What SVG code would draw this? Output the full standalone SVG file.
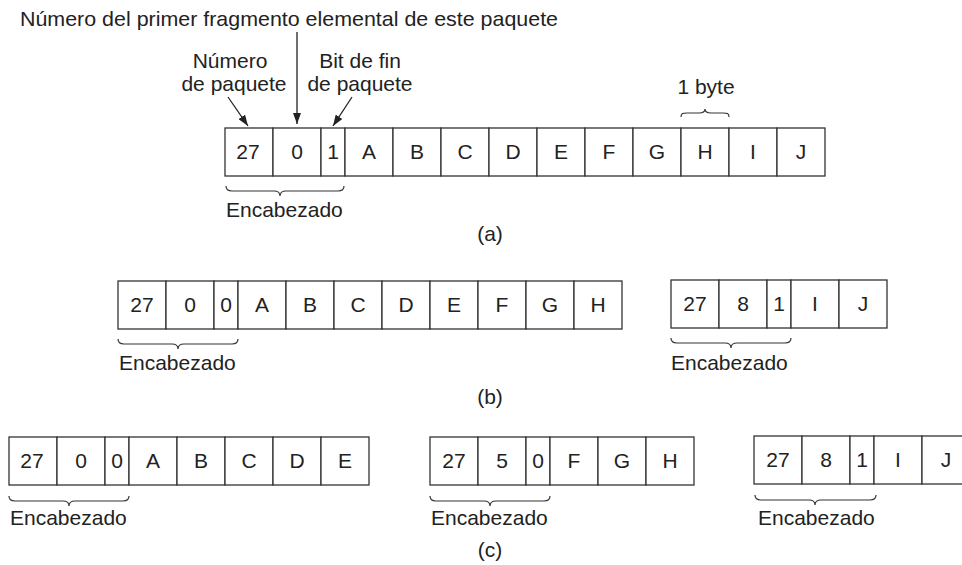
<svg xmlns="http://www.w3.org/2000/svg" width="962" height="565" viewBox="0 0 962 565">
<style>
  .cell { fill: #fff; stroke: #333; stroke-width: 1.3; }
  .t { font-family: "Liberation Sans", Arial, sans-serif; font-size: 21px; fill: #222; }
  .c { text-anchor: middle; }
  .brace { fill: none; stroke: #333; stroke-width: 1.2; }
  .arrow { fill: none; stroke: #222; stroke-width: 1.3; marker-end: url(#ah); }
</style>
<defs>
  <marker id="ah" markerUnits="userSpaceOnUse" markerWidth="11" markerHeight="8" refX="11" refY="4" orient="auto">
    <path d="M0,0 L11,4 L0,8 z" fill="#222"/>
  </marker>
</defs>
<rect width="962" height="565" fill="#fff"/>

<text class="t" x="20" y="26" textLength="538" lengthAdjust="spacingAndGlyphs">Número del primer fragmento elemental de este paquete</text>
<text class="t c" x="230" y="68">Número</text>
<text class="t c" x="234" y="91">de paquete</text>
<text class="t c" x="360" y="68">Bit de fin</text>
<text class="t c" x="360" y="91">de paquete</text>

<g id="connectors">
  <line class="arrow" x1="297" y1="32" x2="297" y2="124"/>
  <line class="arrow" x1="228" y1="97" x2="248" y2="126"/>
  <line class="arrow" x1="352" y1="97" x2="333" y2="126"/>
</g>

<!-- (a) -->
<g id="packet-a">
  <rect class="cell" x="225" y="128" width="48" height="48"/><text class="t c" x="248" y="159">27</text>
  <rect class="cell" x="273" y="128" width="48" height="48"/><text class="t c" x="297" y="159">0</text>
  <rect class="cell" x="321" y="128" width="24" height="48"/><text class="t c" x="333" y="159">1</text>
  <rect class="cell" x="345" y="128" width="48" height="48"/><text class="t c" x="369" y="159">A</text>
  <rect class="cell" x="393" y="128" width="48" height="48"/><text class="t c" x="417" y="159">B</text>
  <rect class="cell" x="441" y="128" width="48" height="48"/><text class="t c" x="465" y="159">C</text>
  <rect class="cell" x="489" y="128" width="48" height="48"/><text class="t c" x="513" y="159">D</text>
  <rect class="cell" x="537" y="128" width="48" height="48"/><text class="t c" x="561" y="159">E</text>
  <rect class="cell" x="585" y="128" width="48" height="48"/><text class="t c" x="609" y="159">F</text>
  <rect class="cell" x="633" y="128" width="48" height="48"/><text class="t c" x="657" y="159">G</text>
  <rect class="cell" x="681" y="128" width="48" height="48"/><text class="t c" x="705" y="159">H</text>
  <rect class="cell" x="729" y="128" width="48" height="48"/><text class="t c" x="753" y="159">I</text>
  <rect class="cell" x="777" y="128" width="48" height="48"/><text class="t c" x="801" y="159">J</text>
  <path class="brace" d="M226 186 C226 190 228 191 232 191 L274 191 C278 191 280 192 280 196 C280 192 282 191 286 191 L338 191 C342 191 344 190 344 186"/>
  <text class="t" x="226" y="217">Encabezado</text>
  <path class="brace" d="M681 117 C681 113 683 113 687 113 L699 113 C703 113 705 112 705 109 C705 112 707 113 711 113 L723 113 C727 113 729 113 729 117"/>
  <text class="t c" x="706" y="94">1 byte</text>
</g>
<text class="t c" x="490" y="241">(a)</text>

<!-- (b) -->
<g id="packet-b1">
  <rect class="cell" x="118" y="281" width="48" height="48"/><text class="t c" x="142" y="312">27</text>
  <rect class="cell" x="166" y="281" width="48" height="48"/><text class="t c" x="190" y="312">0</text>
  <rect class="cell" x="214" y="281" width="24" height="48"/><text class="t c" x="226" y="312">0</text>
  <rect class="cell" x="238" y="281" width="48" height="48"/><text class="t c" x="262" y="312">A</text>
  <rect class="cell" x="286" y="281" width="48" height="48"/><text class="t c" x="310" y="312">B</text>
  <rect class="cell" x="334" y="281" width="48" height="48"/><text class="t c" x="358" y="312">C</text>
  <rect class="cell" x="382" y="281" width="48" height="48"/><text class="t c" x="406" y="312">D</text>
  <rect class="cell" x="430" y="281" width="48" height="48"/><text class="t c" x="454" y="312">E</text>
  <rect class="cell" x="478" y="281" width="48" height="48"/><text class="t c" x="502" y="312">F</text>
  <rect class="cell" x="526" y="281" width="48" height="48"/><text class="t c" x="550" y="312">G</text>
  <rect class="cell" x="574" y="281" width="48" height="48"/><text class="t c" x="598" y="312">H</text>
  <path class="brace" d="M118 339 C118 343 120 344 124 344 L172 344 C176 344 178 345 178 349 C178 345 180 344 184 344 L232 344 C236 344 238 343 238 339"/>
  <text class="t" x="119" y="370">Encabezado</text>
</g>
<g id="packet-b2">
  <rect class="cell" x="671" y="280" width="48" height="48"/><text class="t c" x="695" y="311">27</text>
  <rect class="cell" x="719" y="280" width="48" height="48"/><text class="t c" x="743" y="311">8</text>
  <rect class="cell" x="767" y="280" width="24" height="48"/><text class="t c" x="779" y="311">1</text>
  <rect class="cell" x="791" y="280" width="48" height="48"/><text class="t c" x="815" y="311">I</text>
  <rect class="cell" x="839" y="280" width="48" height="48"/><text class="t c" x="863" y="311">J</text>
  <path class="brace" d="M671 338 C671 342 673 343 677 343 L725 343 C729 343 731 344 731 348 C731 344 733 343 737 343 L785 343 C789 343 791 342 791 338"/>
  <text class="t" x="671" y="370">Encabezado</text>
</g>
<text class="t c" x="490" y="404">(b)</text>

<!-- (c) -->
<g id="packet-c1">
  <rect class="cell" x="9" y="437" width="48" height="48"/><text class="t c" x="32" y="468">27</text>
  <rect class="cell" x="57" y="437" width="48" height="48"/><text class="t c" x="81" y="468">0</text>
  <rect class="cell" x="105" y="437" width="24" height="48"/><text class="t c" x="117" y="468">0</text>
  <rect class="cell" x="129" y="437" width="48" height="48"/><text class="t c" x="153" y="468">A</text>
  <rect class="cell" x="177" y="437" width="48" height="48"/><text class="t c" x="201" y="468">B</text>
  <rect class="cell" x="225" y="437" width="48" height="48"/><text class="t c" x="249" y="468">C</text>
  <rect class="cell" x="273" y="437" width="48" height="48"/><text class="t c" x="297" y="468">D</text>
  <rect class="cell" x="321" y="437" width="48" height="48"/><text class="t c" x="345" y="468">E</text>
  <path class="brace" d="M9 496 C9 500 11 501 15 501 L63 501 C67 501 69 502 69 506 C69 502 71 501 75 501 L123 501 C127 501 129 500 129 496"/>
  <text class="t" x="10" y="525">Encabezado</text>
</g>
<g id="packet-c2">
  <rect class="cell" x="430" y="437" width="48" height="48"/><text class="t c" x="454" y="468">27</text>
  <rect class="cell" x="478" y="437" width="48" height="48"/><text class="t c" x="502" y="468">5</text>
  <rect class="cell" x="526" y="437" width="24" height="48"/><text class="t c" x="538" y="468">0</text>
  <rect class="cell" x="550" y="437" width="48" height="48"/><text class="t c" x="574" y="468">F</text>
  <rect class="cell" x="598" y="437" width="48" height="48"/><text class="t c" x="622" y="468">G</text>
  <rect class="cell" x="646" y="437" width="48" height="48"/><text class="t c" x="670" y="468">H</text>
  <path class="brace" d="M430 496 C430 500 432 501 436 501 L484 501 C488 501 490 502 490 506 C490 502 492 501 496 501 L544 501 C548 501 550 500 550 496"/>
  <text class="t" x="431" y="525">Encabezado</text>
</g>
<g id="packet-c3">
  <rect class="cell" x="754" y="436" width="48" height="48"/><text class="t c" x="778" y="467">27</text>
  <rect class="cell" x="802" y="436" width="48" height="48"/><text class="t c" x="826" y="467">8</text>
  <rect class="cell" x="850" y="436" width="24" height="48"/><text class="t c" x="862" y="467">1</text>
  <rect class="cell" x="874" y="436" width="48" height="48"/><text class="t c" x="898" y="467">I</text>
  <rect class="cell" x="922" y="436" width="48" height="48"/><text class="t c" x="946" y="467">J</text>
  <path class="brace" d="M755 495 C755 499 757 500 761 500 L809 500 C813 500 815 501 815 505 C815 501 817 500 821 500 L870 500 C874 500 876 499 876 495"/>
  <text class="t" x="758" y="525">Encabezado</text>
</g>
<text class="t c" x="490" y="557">(c)</text>
</svg>
